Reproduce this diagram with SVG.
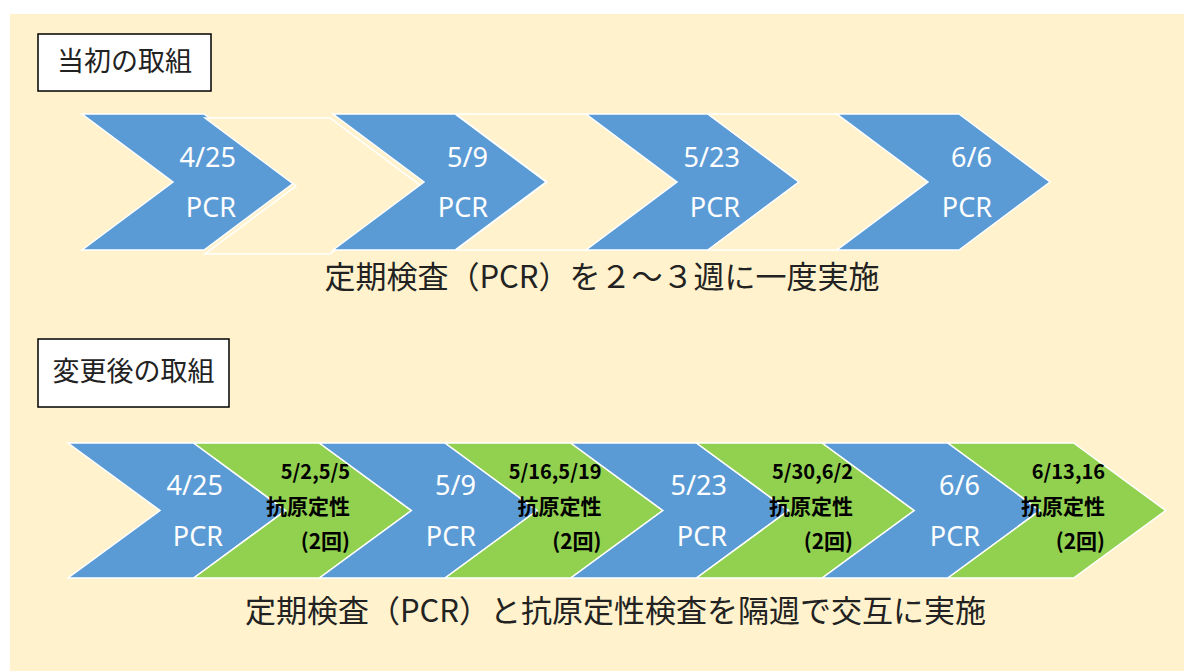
<svg xmlns="http://www.w3.org/2000/svg" width="1184" height="671" viewBox="0 0 1184 671">
<style>
.bg{fill:#FFF2CC}
.box{fill:#FFFFFF;stroke:#000000;stroke-width:1.5}
.blue{fill:#5B9BD5;stroke:#FFFFFF;stroke-width:1.5}
.green{fill:#92D050;stroke:#FFFFFF;stroke-width:1.5}
.ghost{fill:#FFF2CC;stroke:#FFFFFF;stroke-width:1.5}
.ttl{font-family:"Noto Sans CJK JP","Noto Sans",sans-serif;font-size:27px;fill:#222222;text-anchor:middle}
.cap{font-family:"Noto Sans CJK JP","Noto Sans",sans-serif;font-size:31px;fill:#222222;text-anchor:middle}
.w{font-family:"Noto Sans","Open Sans",sans-serif;font-size:27px;fill:#FFFFFF;text-anchor:end}
.k{font-family:"Noto Sans CJK JP","Noto Sans",sans-serif;font-weight:700;fill:#000000;text-anchor:end}
.kd{font-size:20px}
.kt{font-size:21px}
</style>
<rect x="0" y="0" width="1184" height="671" fill="#FFFFFF"/>
<rect class="bg" x="10" y="14" width="1174" height="657"/>

<g id="title-initial">
<rect class="box" x="38" y="34" width="173" height="57"/>
<text class="ttl" x="124.5" y="71">当初の取組</text>
</g>

<g id="top-row">
<g id="top-pcr-0425">
<polygon class="blue" points="82,114 204,114 295,182 204,250 82,250 173,182"/>
<text class="w" x="236" y="167">4/25</text>
<text class="w" x="236" y="217">PCR</text>
</g>
<g id="top-gap-1">
<polygon class="ghost" points="205,118 330,118 421,186 330,254 205,254 296,186"/>
</g>
<g id="top-pcr-0509">
<polygon class="blue" points="333,114 455,114 546,182 455,250 333,250 424,182"/>
<text class="w" x="488" y="167">5/9</text>
<text class="w" x="488" y="217">PCR</text>
</g>
<g id="top-gap-2">
<polygon class="ghost" points="456,114 586,114 677,182 586,250 456,250 547,182"/>
</g>
<g id="top-pcr-0523">
<polygon class="blue" points="586,114 708,114 799,182 708,250 586,250 677,182"/>
<text class="w" x="740" y="167">5/23</text>
<text class="w" x="740" y="217">PCR</text>
</g>
<g id="top-gap-3">
<polygon class="ghost" points="708,114 837,114 928,182 837,250 708,250 799,182"/>
</g>
<g id="top-pcr-0606">
<polygon class="blue" points="837,114 959,114 1050,182 959,250 837,250 928,182"/>
<text class="w" x="992" y="167">6/6</text>
<text class="w" x="992" y="217">PCR</text>
</g>
</g>

<g id="caption-initial">
<text class="cap" x="602" y="288">定期検査（PCR）を２～３週に一度実施</text>
</g>

<g id="title-changed">
<rect class="box" x="38" y="339" width="191" height="68"/>
<text class="ttl" x="133.5" y="381">変更後の取組</text>
</g>

<g id="bottom-row">
<g id="b-pcr-0425">
<polygon class="blue" points="68,443 193.7,443 285.7,510.5 193.7,578 68,578 160,510.5"/>
<text class="w" x="223" y="495">4/25</text>
<text class="w" x="223" y="546">PCR</text>
</g>
<g id="b-ag-0502">
<polygon class="green" points="193.7,443 319.4,443 411.4,510.5 319.4,578 193.7,578 285.7,510.5"/>
<text class="k kd" x="350" y="479">5/2,5/5</text>
<text class="k kt" x="350" y="514">抗原定性</text>
<text class="k kt" x="350" y="549">(2回)</text>
</g>
<g id="b-pcr-0509">
<polygon class="blue" points="319.4,443 445.1,443 537.1,510.5 445.1,578 319.4,578 411.4,510.5"/>
<text class="w" x="476" y="495">5/9</text>
<text class="w" x="476" y="546">PCR</text>
</g>
<g id="b-ag-0516">
<polygon class="green" points="445.1,443 570.8,443 662.8,510.5 570.8,578 445.1,578 537.1,510.5"/>
<text class="k kd" x="601.5" y="479">5/16,5/19</text>
<text class="k kt" x="601.5" y="514">抗原定性</text>
<text class="k kt" x="601.5" y="549">(2回)</text>
</g>
<g id="b-pcr-0523">
<polygon class="blue" points="570.8,443 696.5,443 788.5,510.5 696.5,578 570.8,578 662.8,510.5"/>
<text class="w" x="727" y="495">5/23</text>
<text class="w" x="727" y="546">PCR</text>
</g>
<g id="b-ag-0530">
<polygon class="green" points="696.5,443 822.2,443 914.2,510.5 822.2,578 696.5,578 788.5,510.5"/>
<text class="k kd" x="853" y="479">5/30,6/2</text>
<text class="k kt" x="853" y="514">抗原定性</text>
<text class="k kt" x="853" y="549">(2回)</text>
</g>
<g id="b-pcr-0606">
<polygon class="blue" points="822.2,443 947.9,443 1039.9,510.5 947.9,578 822.2,578 914.2,510.5"/>
<text class="w" x="980" y="495">6/6</text>
<text class="w" x="980" y="546">PCR</text>
</g>
<g id="b-ag-0613">
<polygon class="green" points="947.9,443 1073.6,443 1165.6,510.5 1073.6,578 947.9,578 1039.9,510.5"/>
<text class="k kd" x="1105" y="479">6/13,16</text>
<text class="k kt" x="1105" y="514">抗原定性</text>
<text class="k kt" x="1105" y="549">(2回)</text>
</g>
</g>

<g id="caption-changed">
<text class="cap" x="615.5" y="622">定期検査（PCR）と抗原定性検査を隔週で交互に実施</text>
</g>

<g id="connectors"/>
</svg>
